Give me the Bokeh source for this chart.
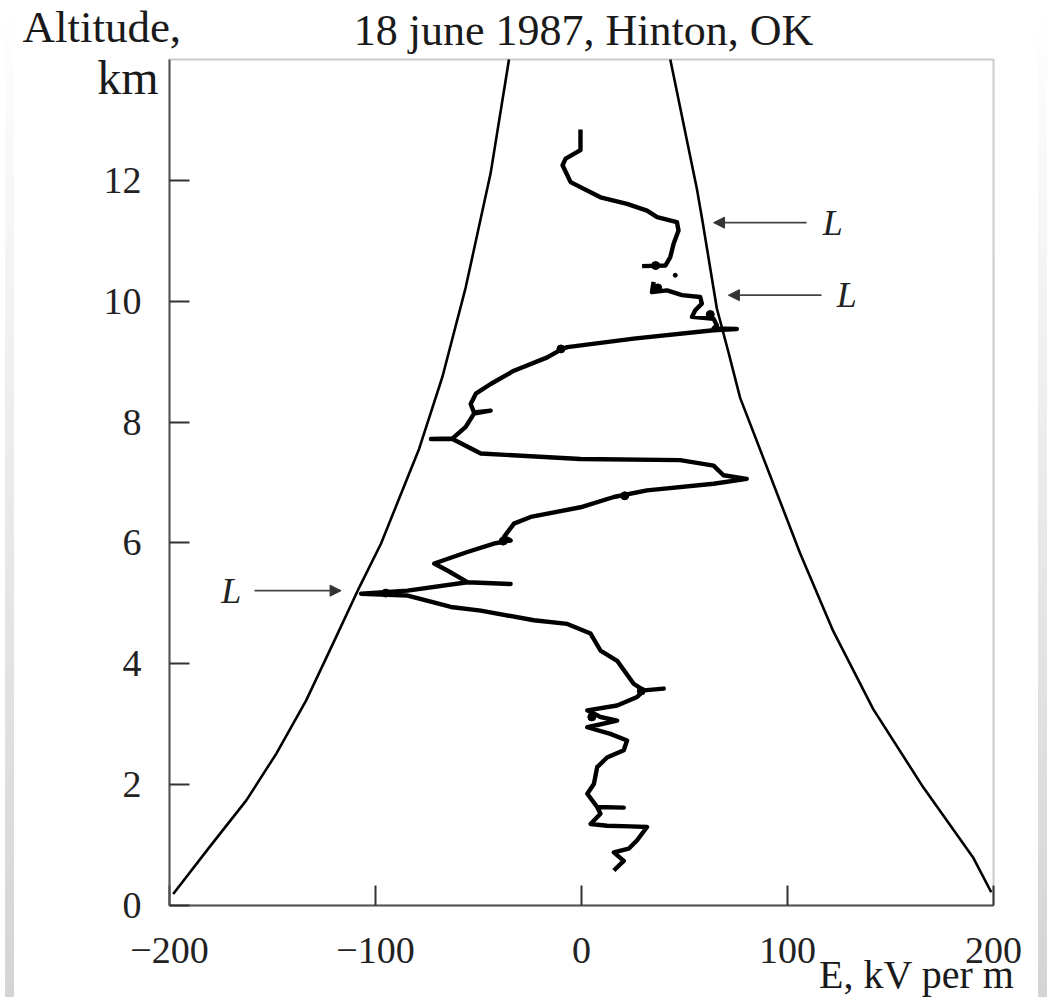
from bokeh.plotting import figure
from bokeh.models import (Range1d, FixedTicker, Label, Arrow, NormalHead, Div, LinearAxis,
                          BoxAnnotation)
from bokeh.layouts import row
from bokeh.embed import file_html
from bokeh.resources import INLINE

# ---------------- data ----------------
# Balloon sounding of electric field E (kV/m) vs altitude (km)
trace_lower_e = [15.7, 20.5, 15.7, 22.9, 27.0, 31.8, 23.7, 12.4, 4.4, 9.2, 7.6, 20.5, 7.6,
                 2.8, 6.0, 7.6, 12.4, 20.5, 22.1, 14.0, 2.8, 17.3, 9.2, 2.8, 17.3, 27.0,
                 30.2, 39.9, 30.2, 25.3, 17.3, 9.2, 4.4, -6.9, -23.1, -48.9, -63.4, -84.4,
                 -107.0, -84.4, -55.4, -34.4, -55.4, -64.9, -71.5, -55.4, -42.5, -34.4,
                 -37.6, -32.8, -24.7, -0.5, 15.7, 31.8, 64.1, 80.2, 68.9, 64.1, 47.9, -0.5,
                 -48.9, -62.6, -73.1, -62.6, -56.2, -52.2, -44.1, -52.2, -53.8, -51.3,
                 -44.1, -32.8, -16.6, -10.0, -6.9, 25.3, 64.1, 75.4, 64.1, 65.7, 64.1, 53.6,
                 55.2, 58.4, 57.6, 48.8, 41.5, 34.2, 35.0]
trace_lower_z = [0.58, 0.74, 0.88, 0.94, 1.08, 1.30, 1.31, 1.32, 1.35, 1.52, 1.63, 1.62, 1.63,
                 1.85, 2.01, 2.29, 2.45, 2.57, 2.73, 2.84, 2.95, 3.06, 3.12, 3.23, 3.31, 3.45,
                 3.56, 3.59, 3.56, 3.67, 4.05, 4.22, 4.50, 4.66, 4.72, 4.88, 4.94, 5.13,
                 5.16, 5.21, 5.35, 5.32, 5.35, 5.54, 5.66, 5.85, 5.99, 6.04,
                 6.10, 6.32, 6.43, 6.59, 6.76, 6.87, 6.98, 7.06, 7.12, 7.28, 7.37, 7.39,
                 7.48, 7.72, 7.72, 7.73, 7.92, 8.14, 8.19, 8.16, 8.30, 8.47,
                 8.63, 8.85, 9.07, 9.20, 9.24, 9.38, 9.52, 9.54, 9.55, 9.60, 9.71, 9.74,
                 9.85, 9.96, 10.07, 10.10, 10.18, 10.15, 10.32]
trace_upper_e = [29.4, 40.7, 43.1, 44.7, 47.1, 46.3, 36.7, 31.8, 22.1, 9.2, -5.3, -9.2, -7.7,
                 -0.5, -0.5]
trace_upper_z = [10.58, 10.59, 10.73, 10.95, 11.17, 11.31, 11.39, 11.50, 11.61, 11.72, 11.97,
                 12.25, 12.36, 12.50, 12.84]
blob_e = [62.5, -10.0, 5.0, 21.0, -38.0, -95.0, 37.0, 36.0, 29.0]
blob_z = [9.78, 9.21, 3.12, 6.78, 6.03, 5.17, 10.22, 10.59, 3.55]
dot_e = [45.5]
dot_z = [10.43]

# Envelope (threshold) curves
left_curve_e = [-198.2, -180.5, -162.7, -148.2, -133.7, -120.7, -107.8, -97.3, -78.8, -67.5,
                -56.2, -44.1, -35.2]
left_curve_z = [0.19, 0.97, 1.74, 2.51, 3.39, 4.33, 5.27, 5.99, 7.56, 8.75, 10.23, 12.12, 14.0]
right_curve_e = [198.9, 190.0, 165.8, 141.6, 122.2, 106.1, 91.5, 77.0, 71.3, 65.7, 58.8, 56.0,
                 43.1]
right_curve_z = [0.22, 0.80, 1.96, 3.25, 4.54, 5.83, 7.12, 8.40, 9.16, 9.88, 11.31, 11.86, 14.0]

# Lightning markers "L": arrow tail, arrow tip, altitude, label position
arrow_tail_e = [109.3, 116.5, -158.7]
arrow_tip_e = [64.1, 71.3, -116.7]
arrow_z = [11.30, 10.10, 5.21]
arrow_label_e = [122.0, 128.7, -170.0]

x_ticks = [-200, -100, 0, 100, 200]
x_tick_labels = ["\u2212200", "\u2212100", "0", "100", "200"]
y_ticks = [0, 2, 4, 6, 8, 10, 12]
x_box = (-200, 200)
y_box = (0, 14)

title_text = "18 june 1987, Hinton, OK"
y_label_1 = "Altitude,"
y_label_2 = "km"
x_label = "E, kV per m"

# ---------------- figure ----------------
SERIF = "Liberation Serif"
W, H = 1014, 997
# the drawing area covers the whole canvas; the plot box is drawn by fixed-location axes
x_view = (-272.8, 219.4)
y_view = (-1.522, 14.976)
p = figure(width=W, height=H, output_backend="svg", toolbar_location=None,
           x_range=Range1d(*x_view), y_range=Range1d(*y_view),
           x_axis_location=None, y_axis_location=None,
           min_border=0, min_border_left=0, min_border_right=0,
           min_border_top=0, min_border_bottom=0)
p.background_fill_color = "white"
p.border_fill_color = "white"
p.outline_line_color = None
p.xgrid.visible = False
p.ygrid.visible = False

xaxis = LinearAxis(fixed_location=y_box[0], bounds=x_box, ticker=FixedTicker(ticks=x_ticks))
yaxis = LinearAxis(fixed_location=x_box[0], bounds=y_box, ticker=FixedTicker(ticks=y_ticks))
for ax in (xaxis, yaxis):
    ax.major_tick_in = 20
    ax.major_tick_out = 0
    ax.minor_tick_in = 0
    ax.minor_tick_out = 0
    ax.axis_line_color = "#555555"
    ax.axis_line_width = 2
    ax.major_tick_line_color = "#333333"
    ax.major_tick_line_width = 2
    ax.major_label_text_font = SERIF
    ax.major_label_text_font_size = "38px"
    ax.major_label_text_color = "#222222"
xaxis.major_label_overrides = {t: s for t, s in zip(x_ticks, x_tick_labels)}
xaxis.major_label_standoff = 32
yaxis.major_label_standoff = 28
p.add_layout(xaxis, "below")
p.add_layout(yaxis, "left")

box = BoxAnnotation(left=x_box[0], right=x_box[1], bottom=y_box[0], top=y_box[1],
                    fill_color=None, fill_alpha=0, line_color="#555555", line_width=2,
                    level="underlay")
p.add_layout(box)

# envelope curves
p.line(left_curve_e, left_curve_z, line_color="black", line_width=2.6)
p.line(right_curve_e, right_curve_z, line_color="black", line_width=2.6)

# sounding trace
p.line(trace_lower_e, trace_lower_z, line_color="black", line_width=4.4, line_join="round")
p.line(trace_upper_e, trace_upper_z, line_color="black", line_width=4.4, line_join="round")
p.scatter(blob_e, blob_z, size=8, color="black")
p.scatter(dot_e, dot_z, size=4, color="black")

# arrows and L labels
for xs, xe, z, xl in zip(arrow_tail_e, arrow_tip_e, arrow_z, arrow_label_e):
    p.add_layout(Arrow(end=NormalHead(size=11, fill_color="#333333", line_color="#333333"),
                       x_start=xs, y_start=z, x_end=xe, y_end=z,
                       line_color="#444444", line_width=1.6))
    p.add_layout(Label(x=xl, y=z, text="L", text_align="center", text_baseline="middle",
                       text_font=SERIF, text_font_style="italic", text_font_size="36px",
                       text_color="#222222"))

# title and axis names
p.add_layout(Label(x=1.0, y=14.48, text=title_text, text_align="center",
                   text_baseline="alphabetic", text_font=SERIF, text_font_size="44px",
                   text_color="#1a1a1a"))
p.add_layout(Label(x=-271.4, y=14.534, text=y_label_1, text_align="left",
                   text_baseline="alphabetic", text_font=SERIF, text_font_size="45px",
                   text_color="#1a1a1a"))
p.add_layout(Label(x=-205.3, y=13.70, text=y_label_2, text_align="right",
                   text_baseline="alphabetic", text_font=SERIF, text_font_size="48px",
                   text_color="#1a1a1a"))
p.add_layout(Label(x=210.2, y=-1.142, text=x_label, text_align="right",
                   text_baseline="alphabetic", text_font=SERIF, text_font_size="40px",
                   text_color="#1a1a1a"))

left_strip = Div(text="", width=9, height=H,
                 styles={"background": "linear-gradient(#ffffff, #d4d4d4)"})
right_strip = Div(text="", width=9, height=H,
                  styles={"background": "linear-gradient(#ffffff, #d4d4d4)"})
layout = row(left_strip, p, right_strip, spacing=0)

open("out.html", "w").write(file_html(layout, INLINE))
